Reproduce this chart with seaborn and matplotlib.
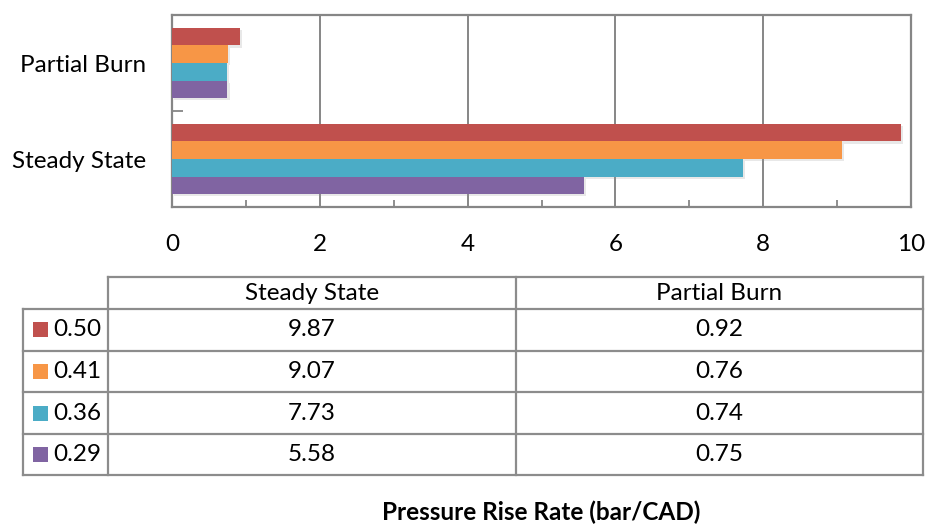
import matplotlib
matplotlib.use("Agg")
import matplotlib.pyplot as plt
import matplotlib.patheffects as pe
from matplotlib.patches import Rectangle
from matplotlib.ticker import MultipleLocator, FixedLocator
import pandas as pd
import seaborn as sns

# Pressure rise rate (bar/CAD) per operating condition and series
conditions = ["Partial Burn", "Steady State"]
series = ["0.50", "0.41", "0.36", "0.29"]
steady_state = [9.87, 9.07, 7.73, 5.58]
partial_burn = [0.92, 0.76, 0.74, 0.75]
x_ticks = [0, 2, 4, 6, 8, 10]
colors = ["#C0504D", "#F79646", "#4BACC6", "#8064A2"]

rows = []
for s, ss, pb in zip(series, steady_state, partial_burn):
    rows.append({"condition": "Steady State", "series": s, "value": ss})
    rows.append({"condition": "Partial Burn", "series": s, "value": pb})
df = pd.DataFrame(rows)

sns.set_theme(style="white")
plt.rcParams["font.family"] = ["Lato", "DejaVu Sans"]

W, H = 927, 525
fig = plt.figure(figsize=(W / 100, H / 100), dpi=100)
fig.patch.set_facecolor("white")

L, R, T, B = 172, 911, 15, 207
ax = fig.add_axes([L / W, 1 - B / H, (R - L) / W, (B - T) / H])

sns.barplot(data=df, y="condition", x="value", hue="series",
            order=conditions, hue_order=series, palette=colors,
            orient="h", width=0.73, gap=0, saturation=1,
            edgecolor="none", linewidth=0, legend=False, ax=ax, zorder=3)

shadow = [pe.SimplePatchShadow(offset=(1.5, -1.5), shadow_rgbFace="#9a9a9a",
                               alpha=0.22), pe.Normal()]
for p in ax.patches:
    p.set_path_effects(shadow)

grey = "#868686"
ax.set_xlim(0, 10)
ax.set_ylim(1.5, -0.5)
ax.xaxis.set_major_locator(FixedLocator(x_ticks))
ax.xaxis.set_minor_locator(MultipleLocator(1))
ax.grid(axis="x", color=grey, linewidth=1.4, zorder=0)
ax.grid(axis="y", visible=False)
ax.set_axisbelow(True)
for sp in ax.spines.values():
    sp.set_color(grey)
    sp.set_linewidth(1.6)
    sp.set_visible(True)

fs = 17.5
ax.tick_params(axis="x", which="major", direction="in", length=0,
               pad=19.5, labelsize=fs, labelcolor="black")
ax.tick_params(axis="x", which="minor", direction="in", length=5,
               width=1.3, color=grey, bottom=True)
ax.yaxis.set_minor_locator(FixedLocator([0.5]))
ax.tick_params(axis="y", which="major", length=0, pad=18.5,
               labelsize=fs, labelcolor="black")
ax.tick_params(axis="y", which="minor", direction="in", length=8,
               width=1.3, color=grey, left=True)
ax.set_xlabel("")
ax.set_ylabel("")

# Data table with legend keys below the chart
tab = fig.add_axes([0, 0, 1, 1], facecolor="none")
tab.set_xlim(0, W)
tab.set_ylim(H, 0)
tab.axis("off")

line_kw = dict(color="#8C8C8C", linewidth=1.6, solid_capstyle="projecting")
x0, x1, x2, x3 = 23, 108, 516, 923
y_head, y_top = 277, 309
row_h = 41.6
y_rows = [y_top + i * row_h for i in range(len(series) + 1)]

tab.plot([x1, x3], [y_head, y_head], **line_kw)
for y in y_rows:
    tab.plot([x0, x3], [y, y], **line_kw)
tab.plot([x0, x0], [y_top, y_rows[-1]], **line_kw)
for x in (x1, x2, x3):
    tab.plot([x, x], [y_head, y_rows[-1]], **line_kw)

tab.text((x1 + x2) / 2, (y_head + y_top) / 2, "Steady State", ha="center",
         va="center", fontsize=fs, color="black")
tab.text((x2 + x3) / 2, (y_head + y_top) / 2, "Partial Burn", ha="center",
         va="center", fontsize=fs, color="black")

for i, (s, c, ss, pb) in enumerate(zip(series, colors, steady_state, partial_burn)):
    yc = (y_rows[i] + y_rows[i + 1]) / 2
    tab.add_patch(Rectangle((33, yc - 7.5), 15, 15, facecolor=c,
                            edgecolor="none"))
    tab.text(53, yc, s, ha="left", va="center", fontsize=fs, color="black")
    tab.text((x1 + x2) / 2, yc, f"{ss:.2f}", ha="center", va="center",
             fontsize=fs, color="black")
    tab.text((x2 + x3) / 2, yc, f"{pb:.2f}", ha="center", va="center",
             fontsize=fs, color="black")

tab.text((L + R) / 2, 512, "Pressure Rise Rate (bar/CAD)", ha="center",
         va="center", fontsize=17.5, fontweight="bold", color="black")

fig.savefig("out.png", dpi=100, facecolor="white")
